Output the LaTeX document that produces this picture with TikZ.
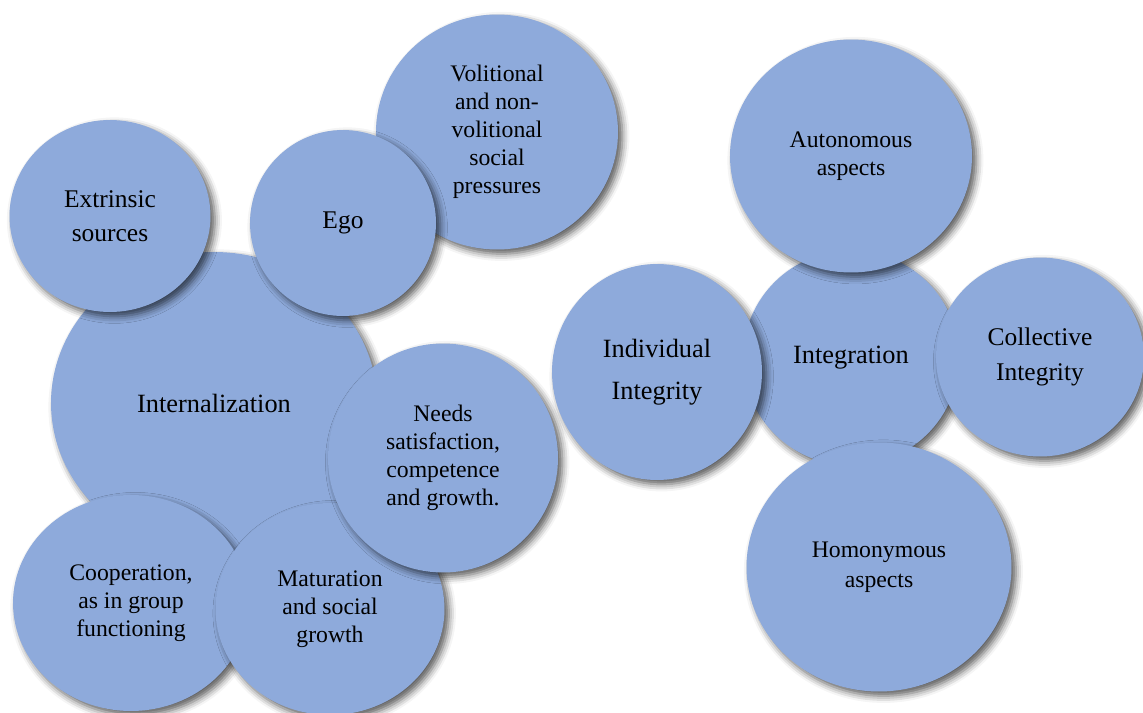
\documentclass[tikz,border=0pt]{standalone}
\usepackage{fontspec}
\setmainfont{Liberation Serif}
\usetikzlibrary{shapes.geometric, shadows.blur}
\definecolor{bubblue}{HTML}{8EAADB}

\begin{document}
\begin{tikzpicture}[x=0.02cm, y=-0.02cm,
    bubble/.style={ellipse, fill=bubblue, inner sep=0pt, align=center,
        blur shadow={shadow xshift=2.5pt, shadow yshift=-2.5pt, shadow blur radius=4pt, shadow opacity=65}},
    smalltext/.style={font=\fontsize{13.5}{16}\selectfont},
    bigtext/.style={font=\fontsize{15}{18}\selectfont}]
            \useasboundingbox (0,0) rectangle (1143,713);
            % left group
            \node [bubble, bigtext, minimum width=6.52cm, minimum height=6.04cm] (intern) at (214,403) {Internalization};
            \node [bubble, font=\fontsize{14.5}{19}\selectfont, minimum width=4.02cm, minimum height=3.84cm] (extrinsic) at (110,216) {Extrinsic\\sources};
            \node [bubble, smalltext, minimum width=4.72cm, minimum height=4.32cm] (coop) at (131,603) {Cooperation,\\as in group\\functioning};
            \node [bubble, smalltext, minimum width=4.58cm, minimum height=4.24cm] (matur) at (330,609) {Maturation\\and social\\growth};
            \node [bubble, smalltext, minimum width=4.6cm, minimum height=4.58cm] (needs) at (443,458) {Needs\\satisfaction,\\competence\\and growth.};
            \node [bubble, smalltext, minimum width=4.84cm, minimum height=4.7cm] (volition) at (497,132) {Volitional\\and non-\\volitional\\social\\pressures};
            \node [bubble, font=\fontsize{14.5}{18}\selectfont, minimum width=3.72cm, minimum height=3.72cm] (ego) at (343,223) {Ego};
            % right group
            \node [bubble, bigtext, minimum width=4.32cm, minimum height=4.3cm] (integ) at (851,358) {Integration};
            \node [bubble, font=\fontsize{15}{24}\selectfont, minimum width=4.2cm, minimum height=4.32cm] (indiv) at (657,372) {Individual\\Integrity};
            \node [bubble, smalltext, minimum width=4.84cm, minimum height=4.66cm] (auton) at (851,156) {Autonomous\\aspects};
            \node [bubble, font=\fontsize{14.5}{20}\selectfont, minimum width=4.16cm, minimum height=3.98cm] (collect) at (1040,357) {Collective\\Integrity};
            \node [bubble, font=\fontsize{13.5}{17}\selectfont, minimum width=5.3cm, minimum height=4.98cm] (homon) at (879,567) {Homonymous\\aspects};
      \end{tikzpicture}
\end{document}
